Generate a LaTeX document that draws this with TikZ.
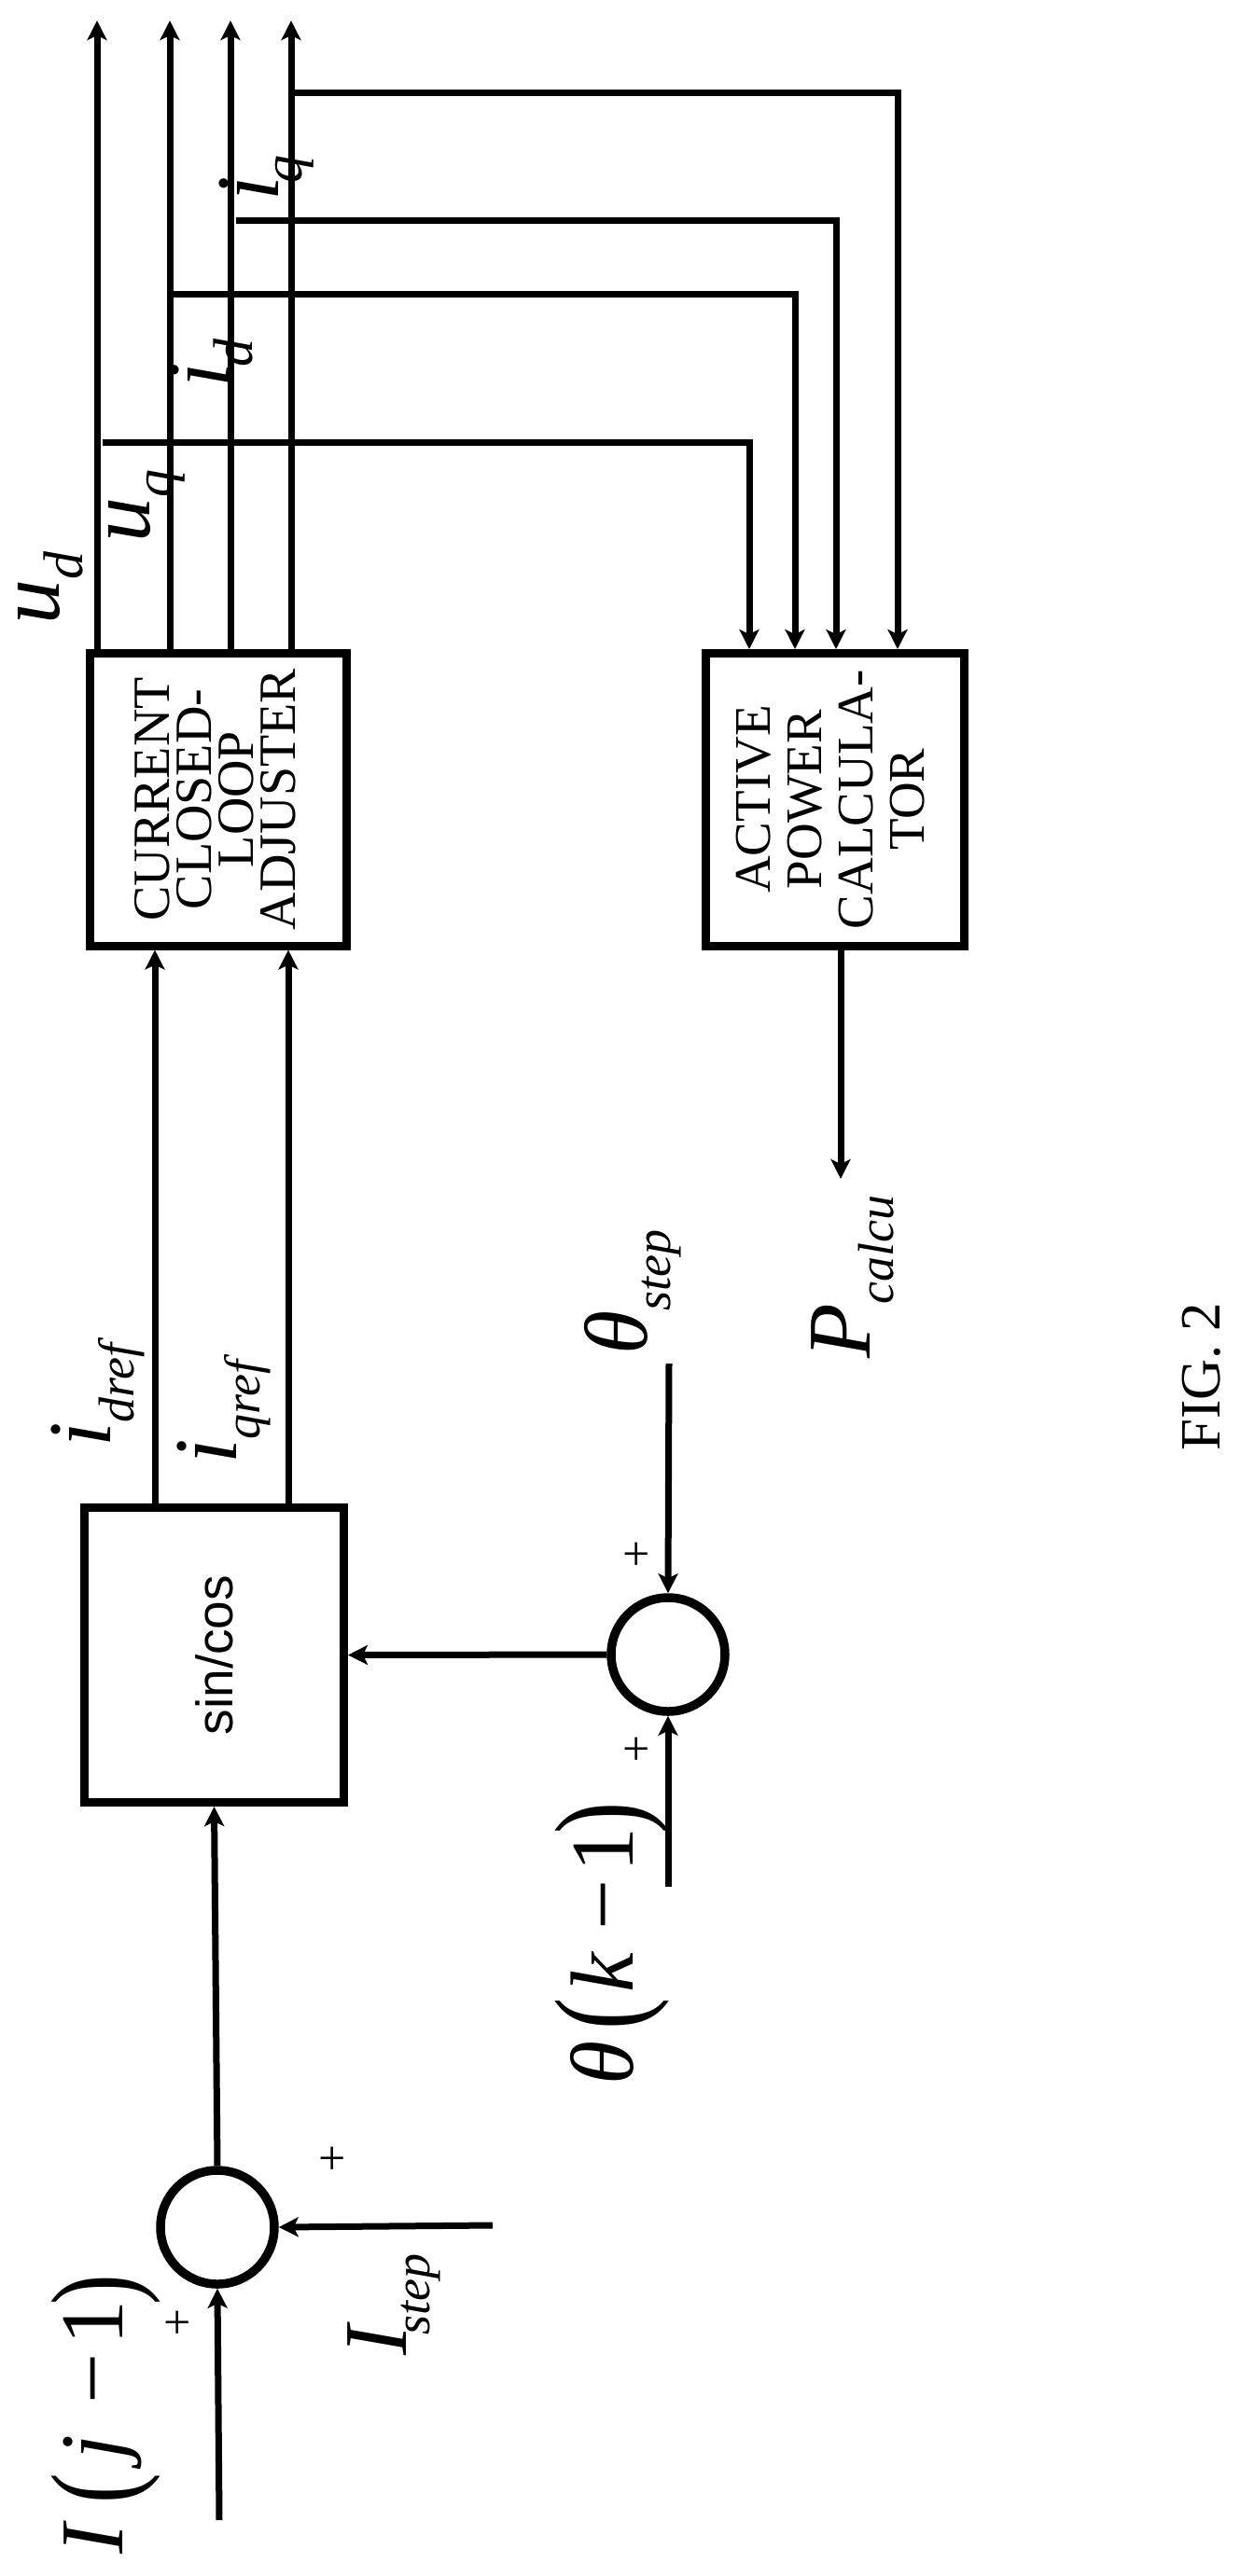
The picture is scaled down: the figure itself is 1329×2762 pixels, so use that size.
\documentclass[tikz,border=0pt]{standalone}
\usepackage{fontspec}
\setmainfont{Liberation Serif}
\setsansfont{Liberation Sans}
\usetikzlibrary{arrows.meta}

\newcommand{\fsz}[1]{\fontsize{#1}{#1}\selectfont}
\newcommand{\sublab}[3][25]{{\fsz{96}\itshape #2}\raisebox{-#1pt}{\fsz{54}\itshape #3}}
\newcommand{\flatparen}[2]{\scalebox{.76}[1]{\fsz{#1}#2}}

\tikzset{
	blockbox/.style={draw, line width=9pt},
	sumcircle/.style={circle, draw, line width=9.5pt, minimum size=122pt, inner sep=0pt},
	sigline/.style={line width=7pt},
	sigarrow/.style={line width=7pt, -{Stealth[length=21pt,width=21pt,inset=5pt]}},
	rotlabel/.style={rotate=90, anchor=base west, inner sep=0pt},
	blocktext/.style={rotate=90, align=center, inner sep=0pt},
	plusmark/.style={font=\fsz{52}, inner sep=0pt}
}

\begin{document}
\begin{tikzpicture}[x=1pt, y=-1pt]
		\useasboundingbox (0,0) rectangle (1329,2762);
		
		% Draw the blocks
		\node[blockbox, minimum width=275pt, minimum height=314pt] (adj) at (233.5,857) {};
		\node[blockbox, minimum width=277pt, minimum height=314pt] (act) at (895,857) {};
		\node[blockbox, minimum width=278pt, minimum height=316pt] (sincos) at (229.5,1774.5) {\rotatebox{90}{\fsz{55}\sffamily sin/cos}};
		
		% Text inside the blocks
		\node[blocktext, font=\fsz{56}, text width=300pt] (adjtext) at (230.5,857) {CURRENT\\[-11pt]CLOSED-\\[-11pt]LOOP\\[-11pt]ADJUSTER};
		\node[blocktext, font=\fsz{55}, text width=300pt] (acttext) at (890,857) {ACTIVE\\POWER\\CALCULA-\\TOR};
		
		% Draw the summing circles
		\node[sumcircle] (sumt) at (716,1774) {};
		\node[sumcircle] (sumi) at (233,2388) {};
		
		% Free ends of the connectors
		\coordinate (ud) at (104,22);
		\coordinate (uq) at (182,22);
		\coordinate (id) at (247,22);
		\coordinate (iq) at (312,22);
		\coordinate (idref) at (166,1300);
		\coordinate (iqref) at (309,1300);
		\coordinate (pout) at (901,1264);
		\coordinate (tstep) at (717,1462);
		\coordinate (tprev) at (716,2023);
		\coordinate (istep) at (528,2386);
		\coordinate (iprev) at (235,2702);
		
		% Output lines of the adjuster
		\foreach \n in {ud,uq,id,iq} {
				\draw[sigarrow] (adj.north -| \n) -- (\n);
			}
		
		% Feedback lines to the calculator
		\coordinate (fbud) at (110,474);
		\coordinate (fbid) at (183,315);
		\coordinate (fbiq) at (253,236);
		\coordinate (fbq) at (312,99);
		\coordinate (actud) at (803,696);
		\coordinate (actid) at (852,696);
		\coordinate (actiq) at (896,696);
		\coordinate (actq) at (962,696);
		\draw[sigarrow] (fbud) -| (actud);
		\draw[sigarrow] (fbid) -| (actid);
		\draw[sigarrow] (fbiq) -| (actiq);
		\draw[sigarrow] (fbq) -| (actq);
		
		% Signal flow between the blocks
		\draw[sigline] (sincos.north -| idref) -- (idref);
		\draw[sigline] (sincos.north -| iqref) -- (iqref);
		\draw[sigarrow] (idref) -- (adj.south -| idref);
		\draw[sigarrow] (iqref) -- (adj.south -| iqref);
		\draw[sigarrow] (act.south -| pout) -- (pout);
		\draw[sigarrow] (sumt.west) -- (sincos.east);
		\draw[sigarrow] (sumi.north) -- (sincos.south);
		\draw[sigarrow] (tstep) -- (sumt.north);
		\draw[sigarrow] (tprev) -- (sumt.south);
		\draw[sigarrow] (istep) -- (sumi.east);
		\draw[sigarrow] (iprev) -- (sumi.south);
		
		% Labels of the signals
		\node[rotlabel] (udlab) at (63,670) {\sublab{u}{\fsz{60}d}};
		\node[rotlabel] (uqlab) at (160,582) {\sublab{u}{\fsz{60}q}};
		\node[rotlabel] (idlab) at (245,416) {\sublab{i\kern-4pt}{\fsz{60}d}};
		\node[rotlabel] (iqlab) at (298,216) {\sublab{i\kern-7pt}{\fsz{60}q}};
		\node[rotlabel] (idreflab) at (118,1552) {\sublab{i}{dref}};
		\node[rotlabel] (iqreflab) at (253,1570) {\sublab{i}{qref}};
		\node[rotlabel] (tsteplab) at (693,1453) {\sublab{θ}{step}};
		\node[rotlabel] (pcalclab) at (932,1457) {\sublab{P}{calcu}};
		\node[rotlabel] (isteplab) at (435,2526) {\sublab{I\kern-10pt}{step}};
		
		% Labels with big brackets
		\node[rotlabel] (iprevlab) at (131,2739) {\fsz{96}\textit{I}\kern19pt\raisebox{-13pt}{\flatparen{129}{(}}\kern14pt\textit{j}\kern33pt−\kern9pt 1\kern-5pt\raisebox{-13pt}{\flatparen{129}{)}}};
		\node[rotlabel] (tprevlab) at (678,2236) {\fsz{96}\textit{θ}\kern12pt\raisebox{-10pt}{\flatparen{135}{(}}\kern6pt\textit{k}\kern23pt−\kern8pt 1\kern-7pt\raisebox{-10pt}{\flatparen{135}{)}}};
		
		% Signs at the summing circles
		\foreach \n/\px/\py in {pa/356/2317, pb/190/2493, pc/682/1669, pd/682/1878} {
				\node[plusmark] (\n) at (\px,\py) {+};
			}
		
		% Caption
		\node[rotlabel] (fig) at (1307,1556) {\fsz{61}FIG. 2};
		
	\end{tikzpicture}
\end{document}
